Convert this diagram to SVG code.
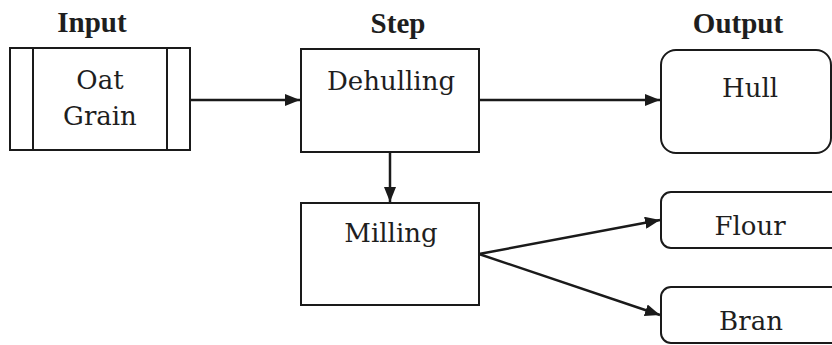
<svg xmlns="http://www.w3.org/2000/svg" width="832" height="345" viewBox="0 0 832 345">
<style>
.box{fill:#fff;stroke:#1a1a1a;stroke-width:2}
.hdr{font-family:"Liberation Serif",serif;font-weight:bold;font-size:29px;fill:#1e1e1e;text-anchor:middle}
.lbl{font-family:"DejaVu Serif","Liberation Serif",serif;font-size:26px;fill:#1e1e1e;text-anchor:middle}
.edge{stroke:#1a1a1a;stroke-width:2.5;fill:none;marker-end:url(#arr)}
</style>
<defs>
<marker id="arr" markerUnits="userSpaceOnUse" markerWidth="16" markerHeight="12" refX="15" refY="6" orient="auto">
<path d="M0,0 L15,6 L0,12 z" fill="#1a1a1a"/>
</marker>
</defs>
<rect width="832" height="345" fill="#fff"/>
<g id="headers">
<text class="hdr" x="92" y="32">Input</text>
<text class="hdr" x="398" y="33">Step</text>
<text class="hdr" x="738" y="33">Output</text>
</g>
<g id="connectors">
<line class="edge" x1="190" y1="100" x2="300" y2="100"/>
<line class="edge" x1="479" y1="100" x2="660" y2="100"/>
<line class="edge" x1="390" y1="152" x2="390" y2="202"/>
<line class="edge" x1="479" y1="254" x2="660" y2="220"/>
<line class="edge" x1="479" y1="254" x2="660" y2="315"/>
</g>
<g id="oat-grain">
<rect class="box" x="10" y="48" width="180" height="102"/>
<line x1="33" y1="48" x2="33" y2="150" stroke="#1a1a1a" stroke-width="2"/>
<line x1="167" y1="48" x2="167" y2="150" stroke="#1a1a1a" stroke-width="2"/>
<text class="lbl" x="100" y="89">Oat</text>
<text class="lbl" x="100" y="125">Grain</text>
</g>
<g id="dehulling">
<rect class="box" x="301" y="49" width="178" height="103"/>
<text class="lbl" x="391" y="90">Dehulling</text>
</g>
<g id="milling">
<rect class="box" x="301" y="203" width="178" height="102"/>
<text class="lbl" x="391" y="242">Milling</text>
</g>
<g id="hull">
<rect class="box" x="661" y="50" width="170" height="103" rx="15" ry="15"/>
<text class="lbl" x="750" y="97">Hull</text>
</g>
<g id="flour">
<rect class="box" x="661" y="192" width="190" height="56" rx="10" ry="10"/>
<text class="lbl" x="750" y="235">Flour</text>
</g>
<g id="bran">
<rect class="box" x="661" y="287" width="190" height="56" rx="10" ry="10"/>
<text class="lbl" x="751" y="330">Bran</text>
</g>
</svg>
